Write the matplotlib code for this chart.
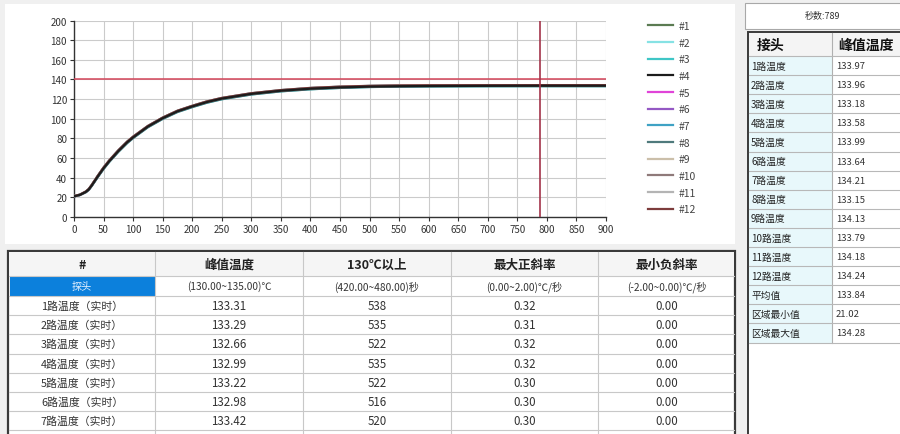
import matplotlib
matplotlib.use("Agg")
import matplotlib.pyplot as plt
from matplotlib.patches import Rectangle

plt.rcParams['font.family'] = ['Noto Sans CJK SC', 'DejaVu Sans']

# time (s) and the temperature curves of the 12 probes
t = [0, 10, 20, 25, 30, 40, 50, 60, 75, 90, 100, 125, 150, 175, 200, 225,
     250, 300, 350, 400, 450, 500, 550, 600, 700, 789, 900]

curves = {
    "#1": [21.2, 22.6, 25.7, 28.3, 32.4, 41.5, 50.0, 57.4, 67.5, 76.4, 81.4, 92.3, 100.8, 107.8, 112.8, 117.3,
           120.8, 125.6, 128.8, 131.0, 132.3, 133.1, 133.5, 133.7, 133.9, 133.97, 133.97],
    "#2": [21.1, 22.5, 25.6, 28.1, 32.2, 41.2, 49.8, 57.2, 67.3, 76.2, 81.2, 92.2, 100.7, 107.7, 112.7, 117.2,
           120.7, 125.5, 128.7, 130.9, 132.2, 133.0, 133.4, 133.7, 133.9, 133.96, 133.96],
    "#3": [21.02, 22.3, 25.2, 27.6, 31.6, 40.4, 48.8, 56.3, 66.3, 75.2, 80.3, 91.3, 99.8, 106.8, 111.8, 116.3,
           119.8, 124.7, 127.9, 130.0, 131.4, 132.3, 132.7, 132.9, 133.1, 133.18, 133.18],
    "#4": [21.0, 22.5, 25.5, 28.0, 32.0, 41.0, 49.5, 57.0, 67.0, 76.0, 81.0, 92.0, 100.5, 107.5, 112.5, 117.0,
           120.5, 125.3, 128.5, 130.6, 131.9, 132.7, 133.1, 133.3, 133.5, 133.58, 133.58],
    "#5": [21.1, 22.6, 25.6, 28.2, 32.3, 41.3, 49.9, 57.3, 67.4, 76.3, 81.3, 92.3, 100.8, 107.8, 112.8, 117.3,
           120.8, 125.6, 128.8, 131.0, 132.3, 133.1, 133.5, 133.7, 133.9, 133.99, 133.99],
    "#6": [21.0, 22.4, 25.4, 27.9, 31.9, 40.9, 49.4, 56.9, 66.9, 75.9, 80.9, 91.9, 100.4, 107.4, 112.4, 116.9,
           120.4, 125.2, 128.4, 130.6, 131.9, 132.8, 133.2, 133.4, 133.6, 133.64, 133.64],
    "#7": [21.3, 22.8, 25.9, 28.5, 32.6, 41.7, 50.3, 57.8, 67.8, 76.7, 81.7, 92.6, 101.1, 108.1, 113.1, 117.6,
           121.1, 125.9, 129.1, 131.3, 132.6, 133.4, 133.8, 134.0, 134.2, 134.21, 134.21],
    "#8": [21.0, 22.3, 25.2, 27.6, 31.6, 40.5, 48.9, 56.4, 66.4, 75.3, 80.4, 91.4, 99.9, 106.9, 111.9, 116.4,
           119.9, 124.7, 127.9, 130.0, 131.4, 132.3, 132.7, 132.9, 133.1, 133.15, 133.15],
    "#9": [21.2, 22.7, 25.8, 28.4, 32.5, 41.6, 50.2, 57.7, 67.7, 76.6, 81.6, 92.5, 101.0, 108.0, 113.0, 117.5,
           121.0, 125.8, 129.0, 131.2, 132.5, 133.3, 133.7, 133.9, 134.1, 134.13, 134.13],
    "#10": [21.1, 22.5, 25.5, 28.1, 32.1, 41.1, 49.7, 57.1, 67.1, 76.1, 81.1, 92.1, 100.6, 107.6, 112.6, 117.1,
            120.6, 125.4, 128.6, 130.8, 132.1, 132.9, 133.3, 133.6, 133.8, 133.79, 133.79],
    "#11": [21.2, 22.7, 25.8, 28.4, 32.5, 41.6, 50.2, 57.7, 67.7, 76.7, 81.7, 92.6, 101.1, 108.1, 113.1, 117.6,
            121.1, 125.9, 129.1, 131.3, 132.6, 133.4, 133.8, 134.0, 134.2, 134.18, 134.18],
    "#12": [21.3, 22.8, 26.0, 28.6, 32.7, 41.8, 50.4, 57.9, 67.9, 76.8, 81.8, 92.7, 101.2, 108.2, 113.2, 117.7,
            121.2, 126.0, 129.2, 131.4, 132.7, 133.5, 133.9, 134.1, 134.2, 134.24, 134.24],
}
colors = ["#5b7b52", "#86e2e4", "#3fc6c6", "#1c1c1c", "#e044d8", "#9458c4",
          "#3fa2c4", "#4f7a7c", "#cbbfaa", "#8f7a7a", "#b4b4b4", "#7d3c3c"]

limit_temp = 140
cursor_time = 789

# bottom table
bt_header = ["#", "峰值温度", "130℃以上", "最大正斜率", "最小负斜率"]
bt_ranges = ["探头", "(130.00~135.00)℃", "(420.00~480.00)秒", "(0.00~2.00)℃/秒", "(-2.00~0.00)℃/秒"]
bt_names = ["1路温度（实时）", "2路温度（实时）", "3路温度（实时）", "4路温度（实时）",
            "5路温度（实时）", "6路温度（实时）", "7路温度（实时）"]
bt_peak = ["133.31", "133.29", "132.66", "132.99", "133.22", "132.98", "133.42"]
bt_above = ["538", "535", "522", "535", "522", "516", "520"]
bt_max_slope = ["0.32", "0.31", "0.32", "0.32", "0.30", "0.30", "0.30"]
bt_min_slope = ["0.00", "0.00", "0.00", "0.00", "0.00", "0.00", "0.00"]

# right table
rt_title = "秒数:789"
rt_header = ["接头", "峰值温度"]
rt_names = ["1路温度", "2路温度", "3路温度", "4路温度", "5路温度", "6路温度", "7路温度",
            "8路温度", "9路温度", "10路温度", "11路温度", "12路温度", "平均值", "区域最小值", "区域最大值"]
rt_values = ["133.97", "133.96", "133.18", "133.58", "133.99", "133.64", "134.21", "133.15",
             "134.13", "133.79", "134.18", "134.24", "133.84", "21.02", "134.28"]

W, H = 900, 435
fig = plt.figure(figsize=(W / 100, H / 100), dpi=100)
fig.patch.set_facecolor("#f0f0f0")

# background layer in pixel units (y down)
ui = fig.add_axes([0, 0, 1, 1], zorder=0)
ui.set_xlim(0, W)
ui.set_ylim(H, 0)
ui.axis("off")

def box(x0, y0, x1, y1, fc="white", ec="none", lw=0.8):
    ui.add_patch(Rectangle((x0, y0), x1 - x0, y1 - y0, facecolor=fc, edgecolor=ec, linewidth=lw))

# chart panel
box(5, 5, 735, 245)

# ---- chart ----
ax = fig.add_axes([74 / W, 1 - 218 / H, 532 / W, 196.5 / H], zorder=2)
ax.set_facecolor("white")
for i, (name, vals) in enumerate(curves.items()):
    ax.plot(t, vals, color=colors[i], lw=1.6, label=name, zorder=4 if name == "#4" else 3)
ax.axhline(limit_temp, color="#d4455a", lw=1.1, zorder=5)
ax.axvline(cursor_time, color="#a3344a", lw=1.2, zorder=5)
ax.set_xlim(0, 900)
ax.set_ylim(0, 200)
ax.set_xticks(range(0, 901, 50))
ax.set_yticks(range(0, 201, 20))
ax.grid(True, color="#cbcbcb", lw=0.8)
ax.set_axisbelow(True)
for s in ["top", "right"]:
    ax.spines[s].set_visible(False)
for s in ["left", "bottom"]:
    ax.spines[s].set_color("#333333")
    ax.spines[s].set_linewidth(1.0)
ax.tick_params(labelsize=7, colors="#333333", length=3, width=0.8, pad=2)
leg = ax.legend(loc="upper left", bbox_to_anchor=(648 / W, 1 - 22 / H), bbox_transform=fig.transFigure,
                frameon=False, fontsize=7.5, handlelength=2.4, handletextpad=0.5,
                labelspacing=0.64, borderpad=0, borderaxespad=0)
for txt in leg.get_texts():
    txt.set_color("#444444")

# ---- bottom table ----
col_edges = [9, 155, 303, 451, 598, 735]
row_top = 252
head_h = 25
sub_h = 20
row_h = 19.2
box(8, row_top, 735, H + 5, fc="white", ec="#3a3a3a", lw=1.6)
box(9, row_top + 1, 734, row_top + head_h, fc="#f5f5f5")
box(col_edges[0] + 1, row_top + head_h, col_edges[1], row_top + head_h + sub_h, fc="#0c80dc")
for xe in col_edges[1:-1]:
    ui.plot([xe, xe], [row_top + 1, H], color="#c8c8c8", lw=0.8)
ui.plot([9, 734], [row_top + head_h, row_top + head_h], color="#c8c8c8", lw=0.8)
for j, label in enumerate(bt_header):
    cx = (col_edges[j] + col_edges[j + 1]) / 2
    ui.text(cx, row_top + head_h / 2 + 1, label, ha="center", va="center",
            fontsize=9, fontweight="bold", color="#222222")
    ui.text(cx, row_top + head_h + sub_h / 2, bt_ranges[j], ha="center", va="center",
            fontsize=7.3, color="#e8f2ff" if j == 0 else "#333333")
y0 = row_top + head_h + sub_h
for i in range(len(bt_names) + 1):
    yl = y0 + i * row_h
    ui.plot([9, 734], [yl, yl], color="#c8c8c8", lw=0.8)
for i, name in enumerate(bt_names):
    cy = y0 + (i + 0.5) * row_h
    cells = [name, bt_peak[i], bt_above[i], bt_max_slope[i], bt_min_slope[i]]
    for j, c in enumerate(cells):
        cx = (col_edges[j] + col_edges[j + 1]) / 2
        ui.text(cx, cy, c, ha="center", va="center", fontsize=7.8 if j == 0 else 8.3, color="#333333")

# ---- right panel ----
box(745, 4, 902, 30, fc="white", ec="#a8a8a8", lw=0.8)
ui.text(822, 17, rt_title, ha="center", va="center", fontsize=6.5, color="#333333")
rx0, rx1, rx2 = 748, 832, 902
rt_top = 33
rt_head_h = 24
rt_row_h = 19.1
box(rx0, rt_top, rx2, H + 5, fc="white", ec="#3a3a3a", lw=1.4)
box(rx0 + 1, rt_top + 1, rx2, rt_top + rt_head_h, fc="#f4f4f4")
ui.text(757, rt_top + rt_head_h / 2 + 1, rt_header[0], ha="left", va="center",
        fontsize=10, fontweight="bold", color="#111111")
ui.text(838, rt_top + rt_head_h / 2 + 1, rt_header[1], ha="left", va="center",
        fontsize=10, fontweight="bold", color="#111111")
ry0 = rt_top + rt_head_h
box(rx0 + 1, ry0, rx1, ry0 + rt_row_h * len(rt_names), fc="#e8f8fb")
ui.plot([rx1, rx1], [rt_top + 1, ry0 + rt_row_h * len(rt_names)], color="#b0b0b0", lw=0.8)
for i in range(len(rt_names) + 1):
    yl = ry0 + i * rt_row_h
    ui.plot([rx0 + 1, rx2], [yl, yl], color="#b8b8b8", lw=0.8)
for i, name in enumerate(rt_names):
    cy = ry0 + (i + 0.5) * rt_row_h
    ui.text(751, cy, name, ha="left", va="center", fontsize=7, color="#222222")
    ui.text(836, cy, rt_values[i], ha="left", va="center", fontsize=6.8, color="#333333")

fig.savefig("out.png", dpi=100, facecolor=fig.get_facecolor())
